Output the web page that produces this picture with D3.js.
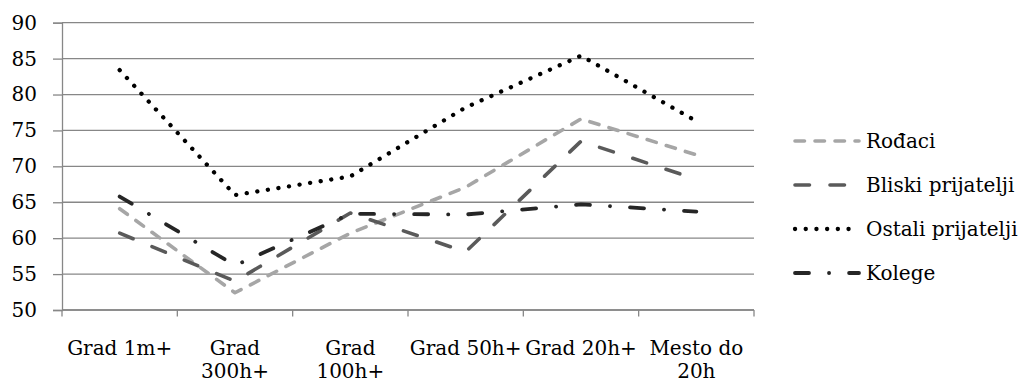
<!DOCTYPE html>
<html>
<head>
<meta charset="utf-8">
<script src="https://cdn.jsdelivr.net/npm/d3@7"></script>
<style>
  html, body { margin: 0; padding: 0; background: #fff; }
  svg { display: block; }
  text { font-family: "DejaVu Serif", serif; fill: #000; }
</style>
</head>
<body>
<svg id="chart" width="1025" height="388"></svg>
<script>
const categories = ["Grad 1m+", "Grad 300h+", "Grad 100h+", "Grad 50h+", "Grad 20h+", "Mesto do 20h"];
const seriesNames = ["Rođaci", "Bliski prijatelji", "Ostali prijatelji", "Kolege"];
const rodjaci = [64.1, 52.4, 60.7, 67.1, 76.6, 71.6];
const bliski  = [60.7, 54.0, 63.5, 58.1, 73.5, 68.2];
const ostali  = [83.4, 66.0, 68.6, 78.2, 85.4, 76.3];
const kolege  = [65.8, 56.2, 63.4, 63.3, 64.7, 63.7];
const yTicks = [50, 55, 60, 65, 70, 75, 80, 85, 90];

(function () {
const seriesValues = [rodjaci, bliski, ostali, kolege];
const styles = [
  { color: "#a6a6a6", dash: "9.5,10.5", width: 3.6 },
  { color: "#5a5a5a", dash: "14.5,20.5", width: 3.6 },
  { color: "#000000", dash: "0.1,10.6", width: 4.3 },
  { color: "#262626", dash: "14,20,0.1,20", width: 3.8 }
];
const fontSize = 20;

const svg = d3.select("#chart");
const pLeft = 62, pRight = 754, pTop = 22.7, pBottom = 310;

const x = d3.scaleBand().domain(categories).range([pLeft, pRight]).paddingInner(0).paddingOuter(0);
const y = d3.scaleLinear().domain([50, 90]).range([pBottom, pTop]);
const gridColor = "#878787";

// gridlines
svg.append("g").selectAll("line").data(yTicks).join("line")
  .attr("x1", pLeft).attr("x2", pRight)
  .attr("y1", d => y(d)).attr("y2", d => y(d))
  .attr("stroke", gridColor).attr("stroke-width", 1.3);

// y axis
const yAxis = svg.append("g").attr("transform", `translate(${pLeft},0)`)
  .call(d3.axisLeft(y).tickValues(yTicks).tickSize(9).tickPadding(16).tickFormat(d3.format("d")));
yAxis.select(".domain").attr("stroke", gridColor).attr("stroke-width", 1.3);
yAxis.selectAll(".tick line").attr("stroke", gridColor).attr("stroke-width", 1.3);
yAxis.selectAll(".tick text").attr("font-family", "DejaVu Serif").attr("font-size", fontSize).attr("fill", "#000");

// x axis
const boundaries = categories.map(c => x(c)).concat([pRight]);
svg.append("g").selectAll("line").data(boundaries).join("line")
  .attr("x1", d => d).attr("x2", d => d)
  .attr("y1", pBottom).attr("y2", pBottom + 6.5)
  .attr("stroke", gridColor).attr("stroke-width", 1.3);
svg.append("line").attr("x1", pLeft).attr("x2", pRight).attr("y1", pBottom).attr("y2", pBottom)
  .attr("stroke", gridColor).attr("stroke-width", 1.3);

const xLabels = svg.append("g").selectAll("text").data(categories).join("text")
  .attr("x", d => x(d) + x.bandwidth() / 2)
  .attr("y", 355)
  .attr("text-anchor", "middle")
  .attr("font-size", fontSize);
xLabels.each(function(d) {
  const t = d3.select(this);
  const words = d.split(" ");
  const maxW = x.bandwidth() - 1;
  let lines = [], cur = [];
  words.forEach(w => {
    const test = cur.concat([w]).join(" ");
    t.text(test);
    if (this.getComputedTextLength() > maxW && cur.length) {
      lines.push(cur.join(" "));
      cur = [w];
    } else {
      cur.push(w);
    }
  });
  lines.push(cur.join(" "));
  t.text(null);
  lines.forEach((ln, i) => {
    t.append("tspan").attr("x", x(d) + x.bandwidth() / 2).attr("dy", i === 0 ? 0 : 23).text(ln);
  });
});

// lines
const line = d3.line()
  .x((d, i) => x(categories[i]) + x.bandwidth() / 2)
  .y(d => y(d));

svg.append("g").selectAll("path").data(seriesValues).join("path")
  .attr("d", d => line(d))
  .attr("fill", "none")
  .attr("stroke", (d, i) => styles[i].color)
  .attr("stroke-width", (d, i) => styles[i].width)
  .attr("stroke-dasharray", (d, i) => styles[i].dash)
  .attr("stroke-linecap", "round")
  .attr("stroke-linejoin", "round");

// legend
const legendY = d3.scalePoint().domain(seriesNames).range([141, 273]);
const lg = svg.append("g").selectAll("g").data(seriesNames).join("g")
  .attr("transform", d => `translate(0,${legendY(d)})`);
lg.append("line")
  .attr("x1", 795).attr("x2", 859).attr("y1", 0).attr("y2", 0)
  .attr("stroke", (d, i) => styles[i].color)
  .attr("stroke-width", (d, i) => styles[i].width)
  .attr("stroke-dasharray", (d, i) => styles[i].dash)
  .attr("stroke-linecap", "round");
lg.append("text")
  .attr("x", 866).attr("y", 0).attr("dy", "0.36em")
  .attr("font-size", fontSize)
  .text(d => d);
})();
</script>
</body>
</html>
